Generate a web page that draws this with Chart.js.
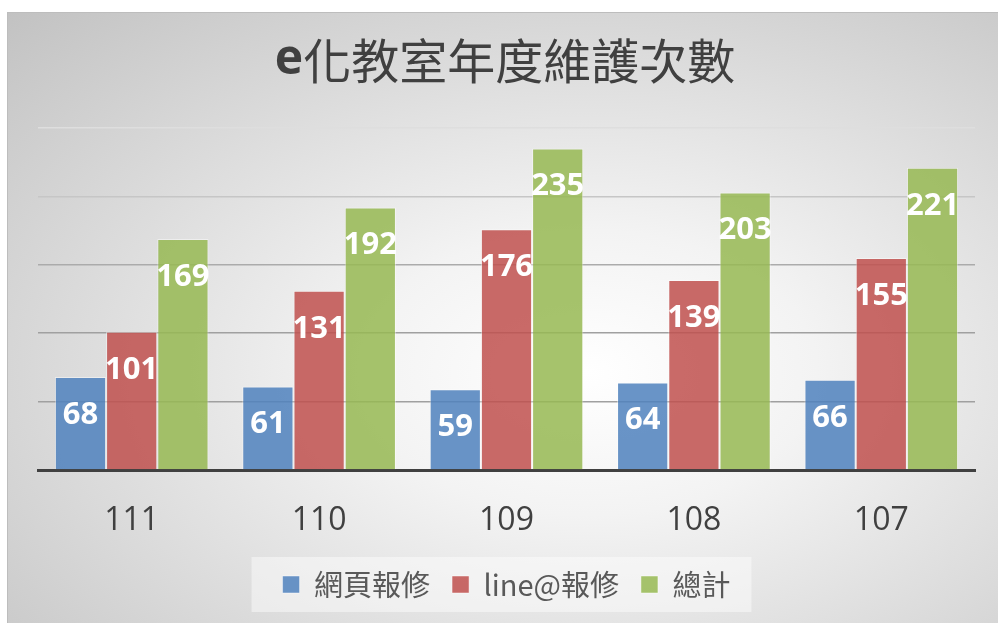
<!DOCTYPE html>
<html>
<head>
<meta charset="utf-8">
<title>e化教室年度維護次數</title>
<script src="https://cdn.jsdelivr.net/npm/chart.js@4.4.1/dist/chart.umd.min.js"></script>
<style>
    html, body { margin: 0; padding: 0; background: #fff; }
    body { width: 998px; height: 623px; position: relative; overflow: hidden; }
    #frame {
        position: absolute; left: 7px; top: 12px; width: 1000px; height: 620px;
        border: 1px solid #bdbdbd;
        background: radial-gradient(ellipse farthest-corner at 58% 58%, #ffffff 0%, #f3f3f3 28%, #c2c2c2 100%);
    }
    #wrap { position: absolute; left: 0; top: 0; width: 998px; height: 623px; }
</style>
</head>
<body>
<div id="frame"></div>
<div id="wrap"><canvas id="barChart"></canvas></div>
<script>
var years = ['111', '110', '109', '108', '107'];
var webRepair = [68, 61, 59, 64, 66];
var lineRepair = [101, 131, 176, 139, 155];
var totals = [169, 192, 235, 203, 221];
var yTicks = [0, 50, 100, 150, 200, 250];
var titleHead = 'e';
var titleRest = '化教室年度維護次數';

var titleSize = 48;
var titlePad = { top: 19.5, bottom: 39 };

// white numbers just under the top of each bar
var barLabels = {
    id: 'barLabels',
    afterDatasetsDraw: function (chart) {
        var ctx = chart.ctx;
        ctx.save();
        ctx.fillStyle = '#ffffff';
        ctx.font = 'bold 31px "Open Sans"';
        ctx.textAlign = 'center';
        ctx.textBaseline = 'middle';
        chart.data.datasets.forEach(function (ds, i) {
            var meta = chart.getDatasetMeta(i);
            meta.data.forEach(function (bar, j) {
                ctx.fillText(ds.data[j], bar.x, bar.y + 38);
            });
        });
        ctx.restore();
    }
};

// title block keeps the space, this draws the text with a bold "e"
var mixedTitle = {
    id: 'mixedTitle',
    afterDraw: function (chart) {
        var tb = chart.titleBlock;
        var ctx = chart.ctx;
        var headFont = 'bold ' + titleSize + 'px "Open Sans"';
        var restFont = titleSize + 'px "Noto Sans CJK TC"';
        ctx.save();
        ctx.fillStyle = '#404040';
        ctx.textBaseline = 'middle';
        ctx.textAlign = 'left';
        ctx.font = headFont;
        var w1 = ctx.measureText(titleHead).width;
        ctx.font = restFont;
        var w2 = ctx.measureText(titleRest).width;
        // centred on the framed area, which starts a little right of the canvas edge
        var x = (chart.width + 12 - w1 - w2) / 2;
        var y = tb.top + titlePad.top + titleSize * 0.6;
        ctx.font = headFont;
        ctx.fillText(titleHead, x, y);
        ctx.font = restFont;
        ctx.fillText(titleRest, x + w1, y);
        ctx.restore();
    }
};

// pale box behind the legend
var legendBox = {
    id: 'legendBox',
    beforeDraw: function (chart) {
        var lg = chart.legend;
        if (!lg || !lg.legendHitBoxes.length) return;
        var boxes = lg.legendHitBoxes;
        var last = boxes[boxes.length - 1];
        var left = boxes[0].left - 31;
        var right = last.left + last.width + 21;
        var top = boxes[0].top - 13;
        var h = boxes[0].height + 26;
        var ctx = chart.ctx;
        ctx.save();
        ctx.fillStyle = 'rgba(255,255,255,0.45)';
        ctx.fillRect(left, top, right - left, h);
        ctx.restore();
    }
};

var gridColors = { 250: '#dedede', 200: '#c6c6c6', 150: '#ababab', 100: '#a0a0a0', 50: '#a0a0a0', 0: '#a0a0a0' };

var barChartData = {
    labels: years,
    datasets: [{
        label: '網頁報修',
        data: webRepair,
        backgroundColor: 'rgba(79, 129, 189, 0.85)',
        borderColor: 'rgba(255, 255, 255, 0.45)',
        borderWidth: 1
    }, {
        label: 'line@報修',
        data: lineRepair,
        backgroundColor: 'rgba(192, 80, 77, 0.85)',
        borderColor: 'rgba(255, 255, 255, 0.45)',
        borderWidth: 1
    }, {
        label: '總計',
        data: totals,
        backgroundColor: 'rgba(150, 184, 82, 0.85)',
        borderColor: 'rgba(255, 255, 255, 0.45)',
        borderWidth: 1
    }]
};

var barChartOptions = {
    responsive: true,
    maintainAspectRatio: false,
    animation: false,
    layout: { padding: { top: 12, left: 38, right: 23, bottom: 14 } },
    datasets: { bar: { categoryPercentage: 0.82, barPercentage: 1.0 } },
    plugins: {
        title: {
            display: true,
            text: titleHead + titleRest,
            color: 'rgba(0,0,0,0)',
            font: { family: '"Noto Sans CJK TC", "Open Sans"', size: titleSize, weight: 'normal' },
            padding: titlePad
        },
        legend: {
            position: 'bottom',
            labels: {
                color: '#595959',
                font: { family: '"Noto Sans CJK TC", "Open Sans"', size: 29 },
                boxWidth: 17,
                boxHeight: 17,
                padding: 22
            }
        },
        tooltip: { enabled: false }
    },
    scales: {
        x: {
            grid: { display: true, drawOnChartArea: false, drawTicks: false },
            border: { display: true, color: '#404040', width: 3 },
            ticks: { color: '#404040', font: { family: '"Open Sans"', size: 32 }, padding: 31.5 },
            afterFit: function (axis) {
                axis.height = 78;
            }
        },
        y: {
            min: yTicks[0],
            max: yTicks[yTicks.length - 1],
            afterBuildTicks: function (axis) {
                axis.ticks = yTicks.map(function (v) { return { value: v }; });
            },
            grid: {
                drawTicks: false,
                lineWidth: 1.5,
                color: function (c) { return gridColors[c.tick.value] || '#a0a0a0'; }
            },
            border: { display: false },
            ticks: { display: false }
        }
    }
};

var barChartCanvas = document.getElementById('barChart');
var barChart = new Chart(barChartCanvas, {
    type: 'bar',
    data: barChartData,
    options: barChartOptions,
    plugins: [barLabels, legendBox, mixedTitle]
});
</script>
</body>
</html>
